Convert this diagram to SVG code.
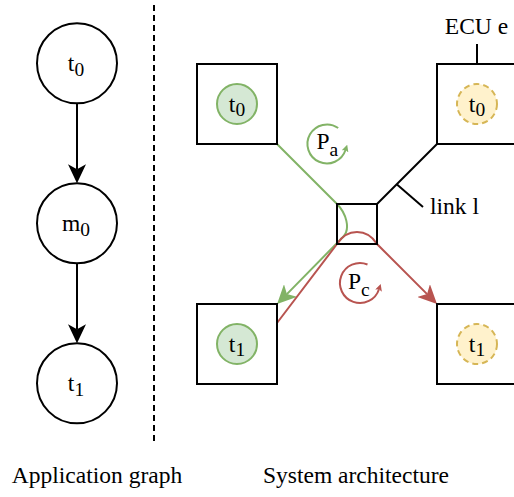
<svg xmlns="http://www.w3.org/2000/svg" width="514" height="497" viewBox="0 0 514 497">
<defs>
<style>
.t{font-family:"Times New Roman",Times,Tinos,"Liberation Serif","Noto Serif","DejaVu Serif",FreeSerif,serif;font-size:23.5px;fill:#000}
.sub{font-size:19.5px}
.node{fill:#fff;stroke:#000;stroke-width:2}
.box{fill:#fff;stroke:#000;stroke-width:2}
.gt{fill:#d5e8d4;stroke:#82b366;stroke-width:2}
.yt{fill:#fff2cc;stroke:#d6b656;stroke-width:2;stroke-dasharray:6 4}
.edge{fill:none;stroke:#000;stroke-width:2}
.g{fill:none;stroke:#82b366;stroke-width:2}
.r{fill:none;stroke:#b85450;stroke-width:2}
</style>
<marker id="ab" markerUnits="userSpaceOnUse" viewBox="0 0 19 18" markerWidth="19" markerHeight="18" refX="5" refY="9" orient="auto"><path d="M0,0 L19,9 L0,18 L5,9 Z" fill="#000"/></marker>
<marker id="ag" markerUnits="userSpaceOnUse" viewBox="0 0 19 18" markerWidth="19" markerHeight="18" refX="5" refY="9" orient="auto"><path d="M0,0 L19,9 L0,18 L5,9 Z" fill="#82b366"/></marker>
<marker id="ar" markerUnits="userSpaceOnUse" viewBox="0 0 19 18" markerWidth="19" markerHeight="18" refX="5" refY="9" orient="auto"><path d="M0,0 L19,9 L0,18 L5,9 Z" fill="#b85450"/></marker>
<marker id="sg" markerUnits="userSpaceOnUse" viewBox="0 0 7 7" markerWidth="7" markerHeight="7" refX="1.5" refY="3.5" orient="auto"><path d="M0,0 L7,3.5 L0,7 L1.5,3.5 Z" fill="#82b366"/></marker>
<marker id="sr" markerUnits="userSpaceOnUse" viewBox="0 0 7 7" markerWidth="7" markerHeight="7" refX="1.5" refY="3.5" orient="auto"><path d="M0,0 L7,3.5 L0,7 L1.5,3.5 Z" fill="#b85450"/></marker>
</defs>
<rect width="514" height="497" fill="#fff"/>

<!-- separator -->
<line x1="154" y1="5" x2="154" y2="443" stroke="#000" stroke-width="2" stroke-dasharray="6 4"/>

<!-- connectors -->
<g id="connectors">
<line class="edge" x1="77" y1="103.3" x2="77" y2="169.3" marker-end="url(#ab)"/>
<line class="edge" x1="77" y1="263.3" x2="77" y2="329.3" marker-end="url(#ab)"/>
<line class="edge" x1="377" y1="204" x2="437" y2="144"/>
<line class="edge" x1="397" y1="184.5" x2="423" y2="207"/>
<line class="edge" x1="477" y1="44" x2="477" y2="64"/>
<path class="g" d="M277,144 L337,204 C346,213 351,229 343,237 L286.9,294.1" marker-end="url(#ag)"/>
<path class="r" d="M277,323 L337,244 C347,228 367,228 377,244 L427.1,294.1" marker-end="url(#ar)"/>
<path class="g" d="M338.2,128 A19.5,19.5 0 1 0 345.5,150" marker-end="url(#sg)"/>
<path class="r" d="M367.5,264.5 A20,20 0 1 0 379,289.2" marker-end="url(#sr)"/>
</g>

<!-- application graph -->
<g id="app-t0"><circle class="node" cx="77" cy="63.3" r="40"/><text class="t" x="76" y="71.3" text-anchor="middle">t<tspan class="sub" dy="5">0</tspan></text></g>
<g id="app-m0"><circle class="node" cx="77" cy="223.3" r="40"/><text class="t" x="76" y="231.3" text-anchor="middle">m<tspan class="sub" dy="5">0</tspan></text></g>
<g id="app-t1"><circle class="node" cx="77" cy="383.3" r="40"/><text class="t" x="76" y="391.3" text-anchor="middle">t<tspan class="sub" dy="5">1</tspan></text></g>

<!-- system architecture -->
<g id="ecu-tl"><rect class="box" x="197" y="64" width="80" height="80"/><circle class="gt" cx="237" cy="104" r="20"/><text class="t" x="237" y="111.5" text-anchor="middle">t<tspan class="sub" dy="4.5">0</tspan></text></g>
<g id="ecu-tr"><rect class="box" x="437" y="64" width="80" height="80"/><circle class="yt" cx="477" cy="104" r="20"/><text class="t" x="477" y="111.5" text-anchor="middle">t<tspan class="sub" dy="4.5">0</tspan></text></g>
<g id="ecu-bl"><rect class="box" x="197" y="304" width="80" height="80"/><circle class="gt" cx="237" cy="344" r="20"/><text class="t" x="237" y="351.5" text-anchor="middle">t<tspan class="sub" dy="4.5">1</tspan></text></g>
<g id="ecu-br"><rect class="box" x="437" y="304" width="80" height="80"/><circle class="yt" cx="477" cy="344" r="20"/><text class="t" x="477" y="351.5" text-anchor="middle">t<tspan class="sub" dy="4.5">1</tspan></text></g>
<g id="switch"><rect x="337" y="204" width="40" height="40" fill="none" stroke="#000" stroke-width="2"/></g>

<!-- labels -->
<g id="labels">
<text class="t" x="476.5" y="34" text-anchor="middle">ECU e</text>
<text class="t" x="430" y="214">link l</text>
<text class="t" x="316.5" y="149">P<tspan class="sub" dy="6.5">a</tspan></text>
<text class="t" x="348" y="289">P<tspan class="sub" dy="7">c</tspan></text>
<text class="t" x="97" y="483" text-anchor="middle">Application graph</text>
<text class="t" x="356" y="483" text-anchor="middle">System architecture</text>
</g>
</svg>
